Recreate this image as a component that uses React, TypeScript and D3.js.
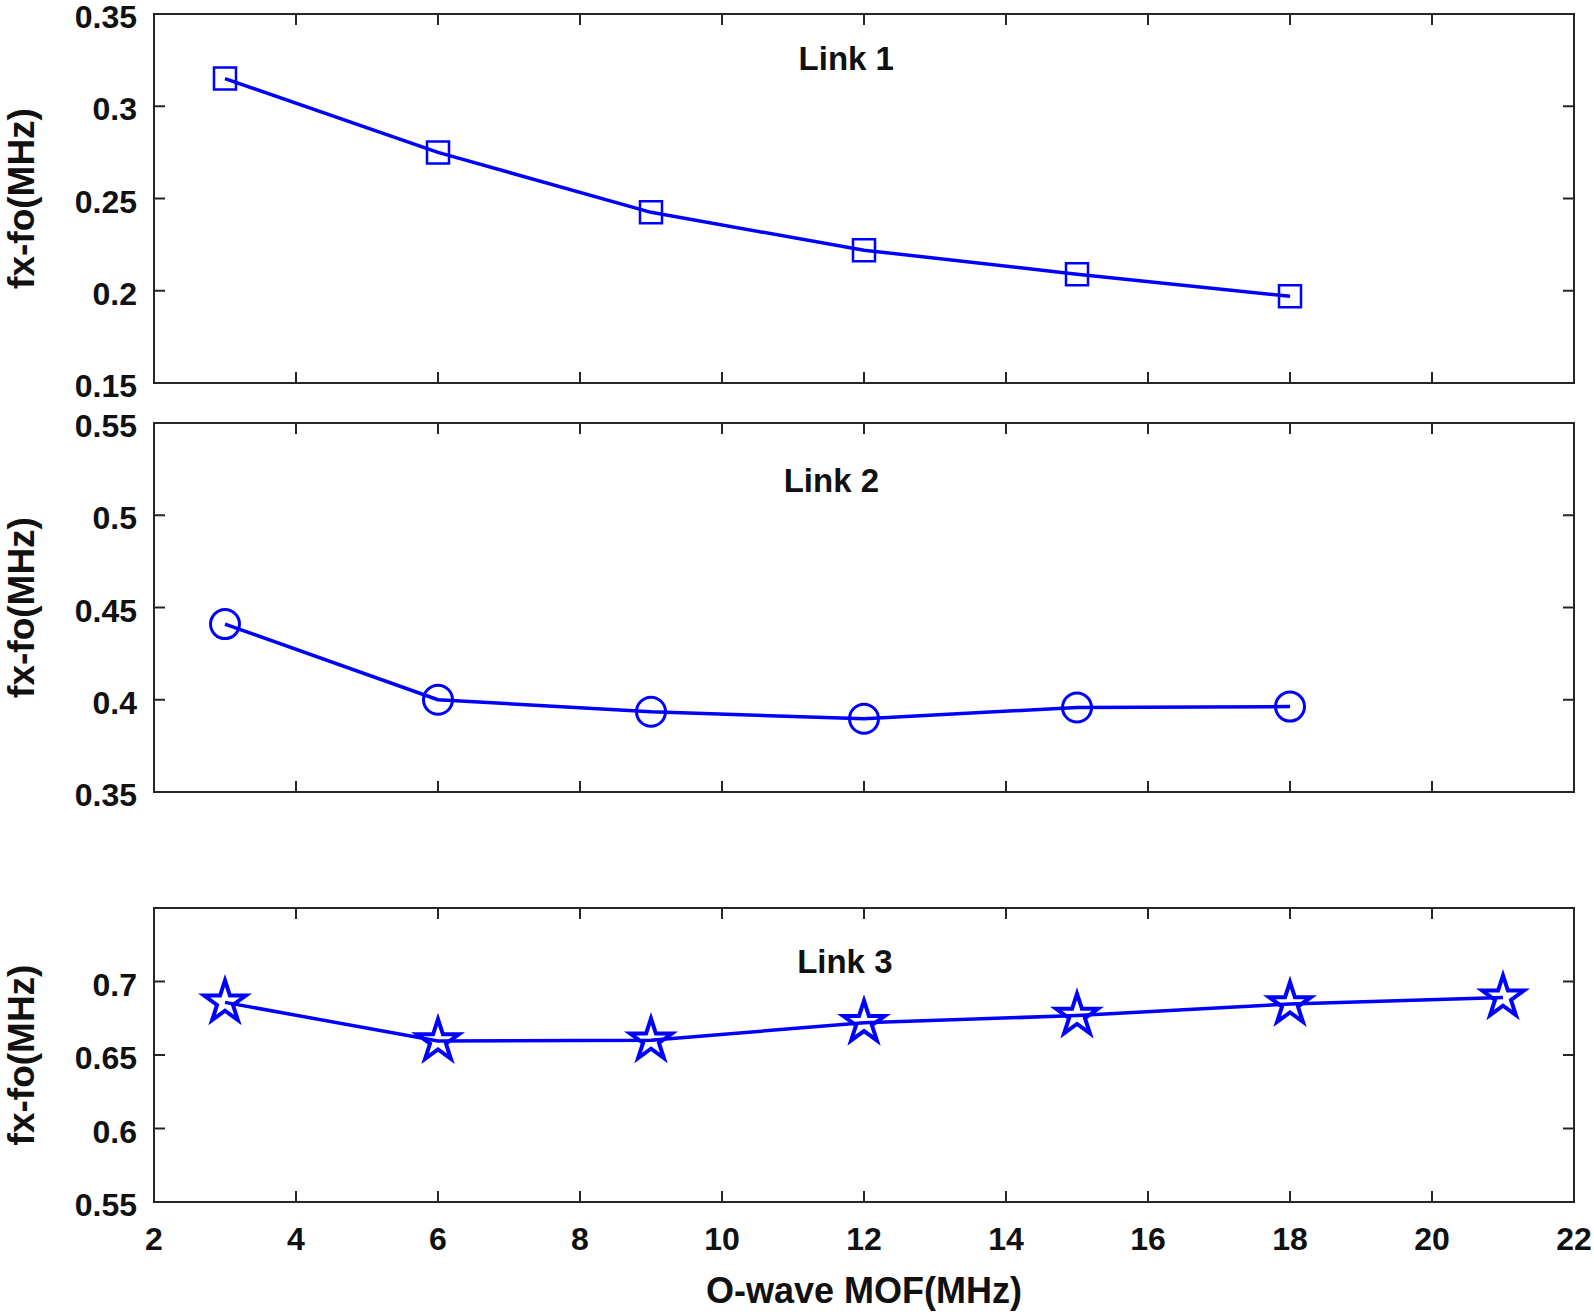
import { useEffect, useRef } from 'react'
import * as d3 from 'd3'

// x values shared by the links (MHz)
const mofLink12 = [3, 6, 9, 12, 15, 18]
const mofLink3 = [3, 6, 9, 12, 15, 18, 21]

const link1 = [0.315, 0.275, 0.2425, 0.222, 0.209, 0.197]
const link2 = [0.441, 0.400, 0.3935, 0.3897, 0.3958, 0.3963]
const link3 = [0.6858, 0.6595, 0.6600, 0.672, 0.6768, 0.6847, 0.6892]

const xTicks = [2, 4, 6, 8, 10, 12, 14, 16, 18, 20, 22]
const yTicks1 = [0.15, 0.2, 0.25, 0.3, 0.35]
const yTicks2 = [0.35, 0.4, 0.45, 0.5, 0.55]
const yTicks3 = [0.55, 0.6, 0.65, 0.7]

const titles = ['Link 1', 'Link 2', 'Link 3']
const titleX = [11.75, 11.54, 11.73]
const titleY = [0.3259, 0.519, 0.7133]

const W = 1594
const H = 1314
const FONT = '"Liberation Sans", Arial, Helvetica, sans-serif'
const BLUE = '#0000ff'
const INK = '#262626'

export default function App() {
  const svgRef = useRef<SVGSVGElement>(null)

  useEffect(() => {
    if (!svgRef.current) return
    const svg = d3.select(svgRef.current)
    svg.selectAll('*').remove()

    const left = 154
    const right = 1574
    const x = d3.scaleLinear().domain([2, 22]).range([left, right])

    const panels = [
      { top: 14, bottom: 383, domain: [0.15, 0.35], ticks: yTicks1, xs: mofLink12, ys: link1, marker: d3.symbolSquare, size: 484, sw: 2.5, showX: false },
      { top: 423, bottom: 792, domain: [0.35, 0.55], ticks: yTicks2, xs: mofLink12, ys: link2, marker: d3.symbolCircle, size: 660, sw: 3, showX: false },
      { top: 908, bottom: 1202, domain: [0.55, 0.75], ticks: yTicks3, xs: mofLink3, ys: link3, marker: d3.symbolStar, size: 540, sw: 4, showX: true },
    ]

    const tickLen = 11

    panels.forEach((p, i) => {
      const y = d3.scaleLinear().domain(p.domain).range([p.bottom, p.top])
      const g = svg.append('g')

      // data line
      const pts = p.xs.map((v, k) => [v, p.ys[k]] as [number, number])
      g.append('path')
        .datum(pts)
        .attr('fill', 'none').attr('stroke', BLUE).attr('stroke-width', 3.5)
        .attr('stroke-linejoin', 'round')
        .attr('d', d3.line<[number, number]>().x(d => x(d[0])).y(d => y(d[1])))

      // markers
      const sym = d3.symbol().type(p.marker).size(p.size)
      g.selectAll('path.mk').data(pts).enter().append('path')
        .attr('class', 'mk')
        .attr('transform', d => `translate(${x(d[0])},${y(d[1])})`)
        .attr('d', sym() as string)
        .attr('fill', 'none').attr('stroke', BLUE)
        .attr('stroke-width', p.sw)

      // frame
      g.append('rect')
        .attr('x', left).attr('y', p.top)
        .attr('width', right - left).attr('height', p.bottom - p.top)
        .attr('fill', 'none').attr('stroke', INK).attr('stroke-width', 2)

      // x ticks (top and bottom, inward)
      xTicks.forEach(t => {
        if (t === 2 || t === 22) return
        g.append('line').attr('x1', x(t)).attr('x2', x(t)).attr('y1', p.bottom).attr('y2', p.bottom - tickLen)
          .attr('stroke', INK).attr('stroke-width', 2)
        g.append('line').attr('x1', x(t)).attr('x2', x(t)).attr('y1', p.top).attr('y2', p.top + tickLen)
          .attr('stroke', INK).attr('stroke-width', 2)
      })

      // y ticks (left and right, inward) + labels
      p.ticks.forEach(t => {
        const yy = y(t)
        if (yy > p.top + 1 && yy < p.bottom - 1) {
          g.append('line').attr('x1', left).attr('x2', left + tickLen).attr('y1', yy).attr('y2', yy)
            .attr('stroke', INK).attr('stroke-width', 2)
          g.append('line').attr('x1', right).attr('x2', right - tickLen).attr('y1', yy).attr('y2', yy)
            .attr('stroke', INK).attr('stroke-width', 2)
        }
        g.append('text')
          .attr('x', 137).attr('y', yy + 14)
          .attr('text-anchor', 'end')
          .attr('font-family', FONT).attr('font-weight', 'bold').attr('font-size', 32)
          .attr('fill', '#111')
          .text(d3.format('~g')(t))
      })

      if (p.showX) {
        xTicks.forEach(t => {
          g.append('text')
            .attr('x', x(t)).attr('y', 1250)
            .attr('text-anchor', 'middle')
            .attr('font-family', FONT).attr('font-weight', 'bold').attr('font-size', 32)
            .attr('fill', '#111')
            .text(String(t))
        })
      }

      // panel title
      g.append('text')
        .attr('x', x(titleX[i])).attr('y', y(titleY[i]) + 11.5)
        .attr('text-anchor', 'middle')
        .attr('font-family', FONT).attr('font-weight', 'bold').attr('font-size', 33)
        .attr('fill', '#111')
        .text(titles[i])

      // y label
      const cy = (p.top + p.bottom) / 2
      g.append('text')
        .attr('transform', `translate(34,${cy}) rotate(-90)`)
        .attr('text-anchor', 'middle')
        .attr('font-family', FONT).attr('font-weight', 'bold').attr('font-size', 37)
        .attr('fill', '#111')
        .text('fx-fo(MHz)')
    })

    // x label
    svg.append('text')
      .attr('x', (left + right) / 2).attr('y', 1303)
      .attr('text-anchor', 'middle')
      .attr('font-family', FONT).attr('font-weight', 'bold').attr('font-size', 36)
      .attr('fill', '#111')
      .text('O-wave MOF(MHz)')
  }, [])

  return (
    <svg
      ref={svgRef}
      width={W}
      height={H}
      style={{ position: 'absolute', left: 0, top: 0, background: '#fff' }}
    />
  )
}
